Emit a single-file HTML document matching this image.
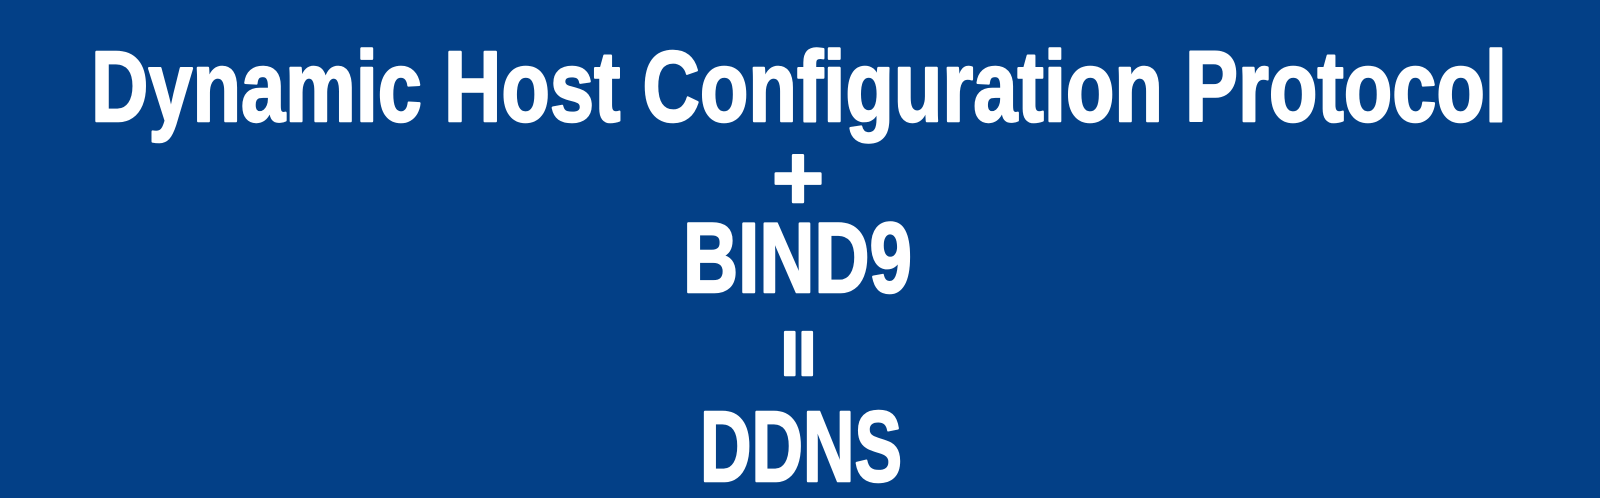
<!DOCTYPE html>
<html><head><style>
html,body{margin:0;padding:0;background:#034087;}
svg{display:block;}
text{font-family:"Liberation Sans",sans-serif;font-weight:bold;fill:#fff;stroke:#fff;stroke-width:2.5;stroke-linejoin:round;}
</style></head><body>
<svg width="1600" height="498" viewBox="0 0 1600 498" xmlns="http://www.w3.org/2000/svg">
<rect width="1600" height="498" fill="#034087"/>
<text x="91" y="121" font-size="100" textLength="1416" lengthAdjust="spacingAndGlyphs">Dynamic Host Configuration Protocol</text>
<text x="772" y="209" font-size="92" textLength="52" lengthAdjust="spacingAndGlyphs">+</text>
<text x="683" y="292" font-size="99" textLength="229" lengthAdjust="spacingAndGlyphs">BIND9</text>
<text x="781" y="375" font-size="62" textLength="35" lengthAdjust="spacingAndGlyphs">II</text>
<text x="700" y="481" font-size="100" textLength="202" lengthAdjust="spacingAndGlyphs">DDNS</text>
</svg>
</body></html>
